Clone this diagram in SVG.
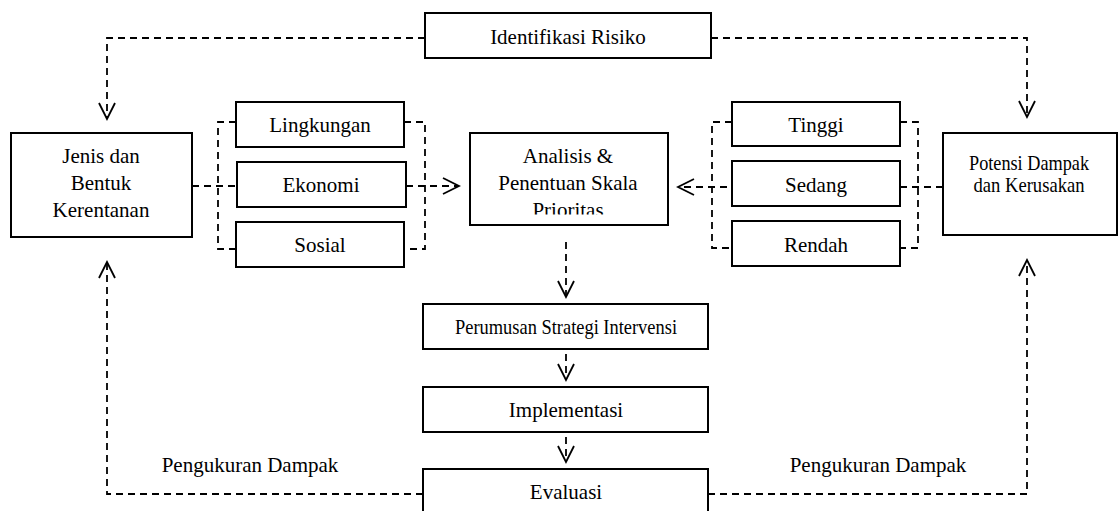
<svg xmlns="http://www.w3.org/2000/svg" width="1119" height="511" viewBox="0 0 1119 511">
<style>
.box{fill:#fff;stroke:#000;stroke-width:2}
.t{font-size:21px;fill:#000;text-anchor:middle}
.c{fill:none;stroke:#000;stroke-width:1.8;stroke-dasharray:7 5}
.a{marker-end:url(#arr)}
</style>
<defs>
<marker id="arr" viewBox="-18 -10 20 20" refX="0" refY="0" markerWidth="20" markerHeight="20" markerUnits="userSpaceOnUse" orient="auto">
<path d="M-16,-8 L0,0 L-16,8" fill="none" stroke="#000" stroke-width="1.8"/>
</marker>
<clipPath id="clipA"><rect x="470" y="133" width="198" height="81.5"/></clipPath>
</defs>
<rect width="1119" height="511" fill="#fff"/>
<g id="connectors">
<path class="c a" d="M425,38 H107 V119"/>
<path class="c a" d="M711,38 H1027 V117"/>
<path class="c" d="M236,122 H218 V249 H236"/>
<path class="c" d="M404,122 H425 V249 H404"/>
<path class="c" d="M192,186 H237"/>
<path class="c a" d="M406,186 H459"/>
<path class="c" d="M732,122 H712 V248 H732"/>
<path class="c" d="M900,122 H918 V248 H900"/>
<path class="c a" d="M943,187 H678"/>
<path class="c a" d="M566,242 V297"/>
<path class="c a" d="M566,354 V380"/>
<path class="c a" d="M566,437 V462"/>
<path class="c a" d="M423,494 H107 V262"/>
<path class="c a" d="M708,494 H1027 V260"/>
</g>
<g font-family="Liberation Serif, Times New Roman, DejaVu Serif, serif">
<g id="identifikasi"><rect class="box" x="425" y="13" width="286" height="45"/><text class="t" x="568" y="44">Identifikasi Risiko</text></g>
<g id="jenis"><rect class="box" x="11" y="133" width="181" height="104"/>
<text class="t" x="101" y="163">Jenis dan</text><text class="t" x="101" y="190">Bentuk</text><text class="t" x="101" y="217">Kerentanan</text></g>
<g id="lingkungan"><rect class="box" x="236" y="102" width="168" height="45"/><text class="t" x="320" y="132">Lingkungan</text></g>
<g id="ekonomi"><rect class="box" x="237" y="162" width="169" height="45"/><text class="t" x="321" y="192">Ekonomi</text></g>
<g id="sosial"><rect class="box" x="236" y="222" width="168" height="45"/><text class="t" x="320" y="252">Sosial</text></g>
<g id="analisis"><rect class="box" x="470" y="133" width="198" height="92"/>
<text class="t" x="568" y="163">Analisis &amp;</text><text class="t" x="568" y="190">Penentuan Skala</text>
<text class="t" x="568" y="217" clip-path="url(#clipA)">Prioritas</text></g>
<g id="tinggi"><rect class="box" x="732" y="102" width="168" height="44"/><text class="t" x="816" y="132">Tinggi</text></g>
<g id="sedang"><rect class="box" x="732" y="161" width="168" height="45"/><text class="t" x="816" y="192">Sedang</text></g>
<g id="rendah"><rect class="box" x="732" y="221" width="168" height="45"/><text class="t" x="816" y="252">Rendah</text></g>
<g id="potensi"><rect class="box" x="943" y="133" width="174" height="102"/>
<text class="t" x="1029" y="170" textLength="120" lengthAdjust="spacingAndGlyphs">Potensi Dampak</text>
<text class="t" x="1029" y="192" textLength="111" lengthAdjust="spacingAndGlyphs">dan Kerusakan</text></g>
<g id="perumusan"><rect class="box" x="423" y="304" width="285" height="45"/>
<text class="t" x="566" y="334" textLength="222" lengthAdjust="spacingAndGlyphs">Perumusan Strategi Intervensi</text></g>
<g id="implementasi"><rect class="box" x="423" y="387" width="285" height="45"/><text class="t" x="566" y="417">Implementasi</text></g>
<g id="evaluasi"><rect class="box" x="423" y="469" width="285" height="50"/><text class="t" x="566" y="499">Evaluasi</text></g>
<g id="labels"><text class="t" x="250" y="472">Pengukuran Dampak</text><text class="t" x="878" y="472">Pengukuran Dampak</text></g>
</g>
</svg>
